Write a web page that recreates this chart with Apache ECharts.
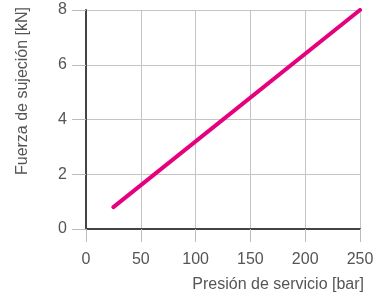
<!DOCTYPE html>
<html><head><meta charset="utf-8">
<script src="https://cdn.jsdelivr.net/npm/echarts@6/dist/echarts.min.js"></script>
<style>html,body{margin:0;padding:0;background:#fff}#c{width:382px;height:298px}</style>
</head><body><div id="c"></div>
<script>
var pressure = [25, 250];
var force = [0.8, 8];
var xTicks = [0, 50, 100, 150, 200, 250];
var yTicks = [0, 2, 4, 6, 8];
var xName = 'Presión de servicio [bar]';
var yName = 'Fuerza de sujeción [kN]';

var font = 'Liberation Sans';
var chart = echarts.init(document.getElementById('c'), null, {renderer: 'canvas'});
chart.setOption({
  animation: false,
  grid: {left: 86, right: 22, top: 10, bottom: 69, containLabel: false},
  xAxis: {
    type: 'value', min: xTicks[0], max: xTicks[xTicks.length - 1], interval: 50,
    axisLine: {show: true, onZero: false, lineStyle: {color: '#444', width: 2}},
    axisTick: {show: true, length: 13, lineStyle: {color: '#bbb', width: 1}},
    splitLine: {show: true, lineStyle: {color: '#c4c4c4', width: 1}},
    axisLabel: {color: '#555', fontFamily: font, fontSize: 16, margin: 23}
  },
  yAxis: {
    type: 'value', min: yTicks[0], max: yTicks[yTicks.length - 1], interval: 2,
    axisLine: {show: true, onZero: false, lineStyle: {color: '#444', width: 2}},
    axisTick: {show: true, length: 14, lineStyle: {color: '#bbb', width: 1}},
    splitLine: {show: true, lineStyle: {color: '#c4c4c4', width: 1}},
    axisLabel: {color: '#555', fontFamily: font, fontSize: 16, margin: 19}
  },
  graphic: [
    {type: 'text', x: 364, y: 285, style: {text: xName, fill: '#555', font: '16px "' + font + '"', align: 'right', verticalAlign: 'middle'}},
    {type: 'text', x: 23, y: 91, rotation: Math.PI / 2, style: {text: yName, fill: '#555', font: '16px "' + font + '"', align: 'center', verticalAlign: 'middle'}}
  ],
  series: [{
    type: 'line', showSymbol: false, symbol: 'none',
    data: pressure.map(function (p, i) { return [p, force[i]]; }),
    lineStyle: {color: '#e6007e', width: 4, cap: 'round'}
  }]
});
</script></body></html>
